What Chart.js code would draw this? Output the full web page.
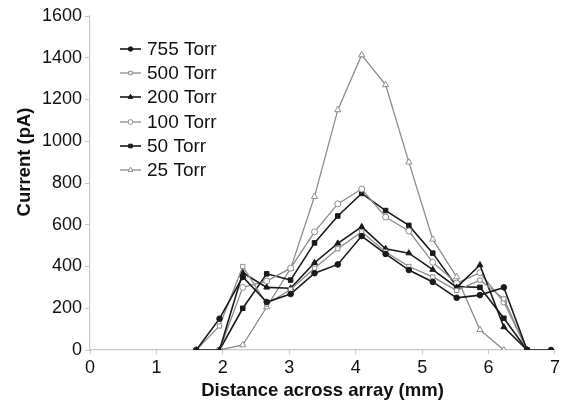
<!DOCTYPE html>
<html>
<head>
<meta charset="utf-8">
<script src="https://cdn.jsdelivr.net/npm/chart.js@4"></script>
<style>
  html, body { margin: 0; padding: 0; background: #fff; }
  #wrap { width: 563px; height: 402px; position: relative; }
</style>
</head>
<body>
<div id="wrap"><canvas id="c" width="563" height="402"></canvas></div>
<script>
// ---- data ----
const distances = [1.6, 1.95, 2.3, 2.66, 3.02, 3.38, 3.73, 4.09, 4.45, 4.8, 5.16, 5.52, 5.87, 6.23, 6.58, 6.94];
const torr755 = [0, 150, 350, 230, 268, 368, 410, 546, 460, 383, 326, 250, 263, 300, 0, 0];
const torr500 = [0, 115, 400, 220, 290, 392, 485, 566, 470, 400, 350, 285, 335, 245, 0, null];
const torr200 = [0, 0, 370, 300, 296, 418, 511, 590, 485, 464, 385, 300, 407, 110, 0, null];
const torr100 = [null, 0, 300, 330, 392, 566, 700, 771, 637, 570, 420, 320, 370, 230, 0, null];
const torr50  = [null, 0, 200, 365, 335, 513, 642, 750, 668, 597, 464, 304, 300, 152, 0, null];
const torr25  = [null, 0, 24, 206, 390, 735, 1150, 1413, 1270, 900, 530, 350, 97, 0, null, null];
const seriesLabels = ['755 Torr', '500 Torr', '200 Torr', '100 Torr', '50 Torr', '25 Torr'];
const xTicks = [0, 1, 2, 3, 4, 5, 6, 7];
const yTicks = [0, 200, 400, 600, 800, 1000, 1200, 1400, 1600];

const seriesValues = [torr755, torr500, torr200, torr100, torr50, torr25];
const DARK = '#1a1a1a', GRAY = '#8c8c8c';
const styles = [
  {color: DARK, fill: DARK, shape: 'circle', r: 2.8, w: 1.6},
  {color: GRAY, fill: '#fff', shape: 'rect', r: 3.0, w: 1.3},
  {color: DARK, fill: DARK, shape: 'triangle', r: 3.4, w: 1.6},
  {color: GRAY, fill: '#fff', shape: 'circle', r: 3.0, w: 1.3},
  {color: DARK, fill: DARK, shape: 'rect', r: 3.2, w: 1.6},
  {color: GRAY, fill: '#fff', shape: 'triangle', r: 3.6, w: 1.3}
];

function toPoints(vals) {
  const pts = [];
  vals.forEach((v, i) => { if (v !== null) pts.push({x: distances[i], y: v}); });
  return pts;
}

const datasets = seriesValues.map((vals, i) => ({
  label: seriesLabels[i],
  data: toPoints(vals),
  borderColor: styles[i].color,
  backgroundColor: styles[i].fill,
  borderWidth: styles[i].w,
  pointStyle: styles[i].shape,
  pointRadius: styles[i].r,
  pointBorderColor: styles[i].color,
  pointBackgroundColor: styles[i].fill,
  pointBorderWidth: 1,
  tension: 0,
  fill: false
}));

const FONT = "'Liberation Sans', Arial, sans-serif";

const overlayPlugin = {
  id: 'overlay',
  afterDraw(chart) {
    const ctx = chart.ctx;
    const ys = [49, 73, 97, 122, 146, 170];
    ctx.save();
    chart.data.datasets.forEach((ds, i) => {
      const y = ys[i];
      const st = styles[i];
      ctx.strokeStyle = st.color;
      ctx.lineWidth = st.w;
      ctx.beginPath();
      ctx.moveTo(120, y);
      ctx.lineTo(141, y);
      ctx.stroke();
      ctx.fillStyle = st.fill;
      ctx.strokeStyle = st.color;
      ctx.lineWidth = 1;
      Chart.helpers.drawPoint(ctx, {
        pointStyle: st.shape, radius: st.r * 0.8, borderWidth: 1, rotation: 0
      }, 130.5, y);
      ctx.fillStyle = '#111';
      ctx.font = '19px ' + FONT;
      ctx.textBaseline = 'middle';
      ctx.textAlign = 'left';
      ctx.fillText(ds.label, 147, y + 1);
    });
    // y-axis title
    ctx.translate(25, 162);
    ctx.rotate(-Math.PI / 2);
    ctx.font = 'bold 18.5px ' + FONT;
    ctx.textAlign = 'center';
    ctx.textBaseline = 'middle';
    ctx.fillStyle = '#111';
    ctx.fillText('Current (pA)', 0, 0);
    ctx.restore();
  }
};

new Chart(document.getElementById('c'), {
  type: 'line',
  data: { datasets },
  options: {
    responsive: false,
    animation: false,
    devicePixelRatio: 1,
    layout: { padding: { left: 0, right: 0, top: 16, bottom: 0 } },
    plugins: { legend: { display: false }, tooltip: { enabled: false } },
    scales: {
      x: {
        type: 'linear',
        min: 0, max: 7,
        afterBuildTicks: (s) => { s.ticks = xTicks.map(v => ({value: v})); },
        afterFit: (s) => { s.height = 52; },
        border: { display: true, color: '#c8c8c8', width: 1.2 },
        grid: { drawOnChartArea: false, drawTicks: true, tickLength: 4, color: '#c8c8c8' },
        ticks: { color: '#111', font: { family: FONT, size: 18 }, padding: 3, maxRotation: 0,
                 callback: (v) => String(v) },
        title: { display: true, text: 'Distance across array (mm)', color: '#111',
                 font: { family: FONT, size: 18.5, weight: 'bold' }, padding: { top: 0, bottom: 0 } }
      },
      y: {
        min: 0, max: 1600,
        afterBuildTicks: (s) => { s.ticks = yTicks.map(v => ({value: v})); },
        afterFit: (s) => { s.width = 90; },
        border: { display: true, color: '#c8c8c8', width: 1.2 },
        grid: { drawOnChartArea: false, drawTicks: true, tickLength: 5, color: '#c8c8c8' },
        ticks: { color: '#111', font: { family: FONT, size: 18 }, padding: 3,
                 callback: (v) => String(v) },
        title: { display: false }
      }
    }
  },
  plugins: [overlayPlugin]
});
</script>
</body>
</html>
